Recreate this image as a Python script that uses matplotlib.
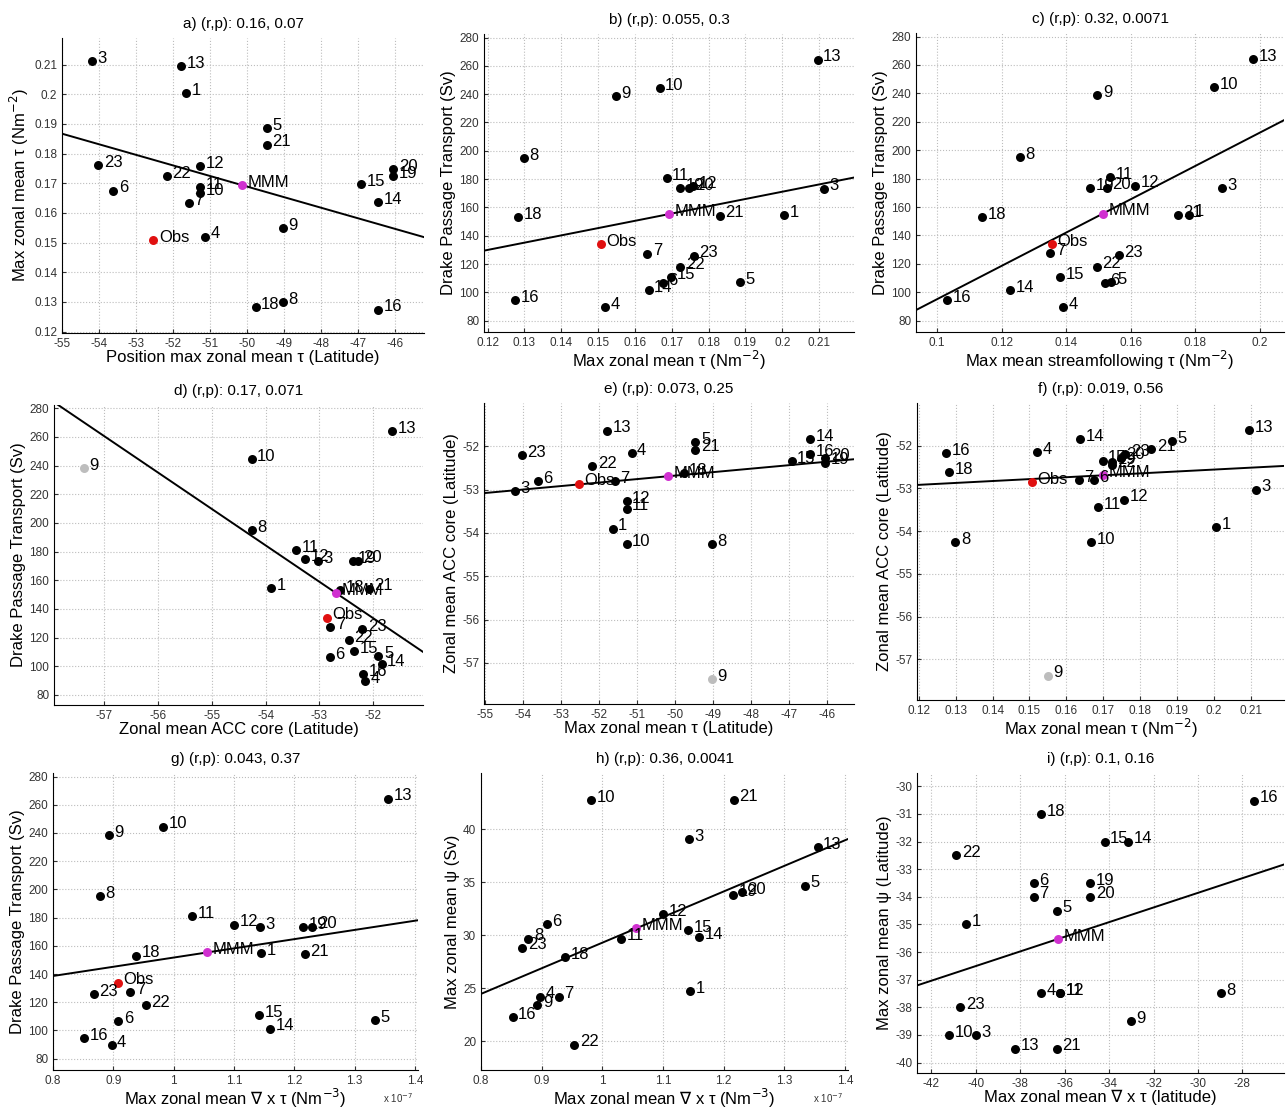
import numpy as np
import matplotlib
matplotlib.use("Agg")
import matplotlib.pyplot as plt
from matplotlib.ticker import FormatStrFormatter

plt.rcParams['font.family'] = ['Liberation Sans', 'DejaVu Sans']

# model numbers (2 and 17 are not in the figure)
models = [1, 3, 4, 5, 6, 7, 8, 9, 10, 11, 12, 13, 14, 15, 16, 18, 19, 20, 21, 22, 23]

# position of max zonal mean tau (latitude)
tau_lat = [-51.64, -54.20, -51.14, -49.46, -53.61, -51.58, -49.03, -49.03, -51.27, -51.27, -51.27,
           -51.78, -46.45, -46.93, -46.45, -49.77, -46.05, -46.05, -49.46, -52.17, -54.02]
# max zonal mean tau (N m-2)
tau_max = [0.2005, 0.2113, 0.1520, 0.1885, 0.1675, 0.1633, 0.1299, 0.1549, 0.1667, 0.1686, 0.1757,
           0.2096, 0.1637, 0.1698, 0.1274, 0.1282, 0.1723, 0.1748, 0.1830, 0.1723, 0.1760]
# Drake Passage transport (Sv)
dpt = [154.6, 173.3, 89.6, 107.3, 106.6, 127.4, 195.0, 238.5, 244.5, 180.8, 175.0,
       264.3, 101.4, 110.8, 94.5, 153.0, 173.5, 173.7, 154.1, 118.0, 126.0]
# max mean streamfollowing tau (N m-2)
sf_tau = [0.1781, 0.1882, 0.1391, 0.1540, 0.1519, 0.1351, 0.1257, 0.1496, 0.1858, 0.1536, 0.1612,
          0.1979, 0.1226, 0.1380, 0.1031, 0.1139, 0.1475, 0.1526, 0.1745, 0.1494, 0.1563]
# zonal mean ACC core (latitude)
acc_lat = [-53.90, -53.03, -52.15, -51.90, -52.81, -52.80, -54.26, -57.38, -54.26, -53.44, -53.26,
           -51.64, -51.84, -52.35, -52.18, -52.62, -52.38, -52.28, -52.08, -52.45, -52.20]
# max zonal mean curl tau (x 1e-7 N m-3)
curl_max = [1.145, 1.143, 0.897, 1.334, 0.908, 0.928, 0.878, 0.893, 0.982, 1.031, 1.100,
            1.355, 1.160, 1.141, 0.852, 0.938, 1.215, 1.230, 1.217, 0.954, 0.868]
# max zonal mean psi (Sv)
psi_max = [24.75, 39.06, 24.22, 34.69, 31.03, 24.22, 29.69, 23.44, 42.72, 29.69, 31.97,
           38.28, 29.84, 30.47, 22.28, 27.97, 33.84, 34.10, 42.78, 19.69, 28.84]
# latitude of max zonal mean curl tau
curl_lat = [-40.42, -40.00, -37.07, -36.34, -37.39, -37.39, -28.96, -33.01, -41.21, -36.22, -36.22,
            -38.21, -33.16, -34.20, -27.48, -37.07, -34.85, -34.85, -36.34, -40.88, -40.69]
# latitude of max zonal mean psi
psi_lat = [-35.0, -39.0, -37.5, -34.5, -33.5, -34.0, -37.5, -38.5, -39.0, -37.5, -37.5,
           -39.5, -32.0, -32.0, -30.52, -31.0, -33.5, -34.0, -39.5, -32.5, -38.0]

# observations
obs = {"tau_lat": -52.53, "tau_max": 0.1507, "dpt": 134.0, "sf_tau": 0.1356,
       "acc_lat": -52.86, "curl_max": 0.907}

data = {"tau_lat": tau_lat, "tau_max": tau_max, "dpt": dpt, "sf_tau": sf_tau,
        "acc_lat": acc_lat, "curl_max": curl_max, "psi_max": psi_max,
        "curl_lat": curl_lat, "psi_lat": psi_lat}

titles = ["a) (r,p): 0.16, 0.07", "b) (r,p): 0.055, 0.3", "c) (r,p): 0.32, 0.0071",
          "d) (r,p): 0.17, 0.071", "e) (r,p): 0.073, 0.25", "f) (r,p): 0.019, 0.56",
          "g) (r,p): 0.043, 0.37", "h) (r,p): 0.36, 0.0041", "i) (r,p): 0.1, 0.16"]

L_TAU = "Max zonal mean τ (Nm$^{-2}$)"
L_DPT = "Drake Passage Transport (Sv)"
L_ACC = "Zonal mean ACC core (Latitude)"
L_CURL = "Max zonal mean $\\nabla$ x τ (Nm$^{-3}$)"

# x var, y var, xlabel, ylabel, xlim, ylim, xticks, yticks, grey 9, obs, box (px)
panels = [
    ("tau_lat", "tau_max", "Position max zonal mean τ (Latitude)", L_TAU,
     (-55, -45.22), (0.1195, 0.219), np.arange(-55, -45.5, 1), np.arange(0.12, 0.215, 0.01),
     False, True, (62, 424, 38, 333)),
    ("tau_max", "dpt", L_TAU, L_DPT,
     (0.119, 0.2195), (72, 282.5), np.arange(0.12, 0.215, 0.01), np.arange(80, 281, 20),
     False, True, (484, 854, 34, 332)),
    ("sf_tau", "dpt", "Max mean streamfollowing τ (Nm$^{-2}$)", L_DPT,
     (0.0935, 0.2074), (72, 282.5), np.arange(0.1, 0.205, 0.02), np.arange(80, 281, 20),
     False, True, (916, 1284, 33, 332)),
    ("acc_lat", "dpt", L_ACC, L_DPT,
     (-57.94, -51.07), (73, 282.3), np.arange(-57, -51.5, 1), np.arange(80, 281, 20),
     True, True, (54, 423, 405, 705)),
    ("tau_lat", "acc_lat", "Max zonal mean τ (Latitude)", L_ACC,
     (-55.02, -45.29), (-57.95, -51.0), np.arange(-55, -45.5, 1), np.arange(-57, -51.5, 1),
     True, True, (484, 854, 403, 704)),
    ("tau_max", "acc_lat", L_TAU, L_ACC,
     (0.1195, 0.219), (-57.95, -51.0), np.arange(0.12, 0.215, 0.01), np.arange(-57, -51.5, 1),
     True, True, (917, 1284, 403, 700)),
    ("curl_max", "dpt", L_CURL, L_DPT,
     (0.8, 1.405), (72, 282.5), np.arange(0.8, 1.45, 0.1), np.arange(80, 281, 20),
     False, True, (53, 418, 773, 1070)),
    ("curl_max", "psi_max", L_CURL, "Max zonal mean ψ (Sv)",
     (0.8, 1.405), (17.3, 45.3), np.arange(0.8, 1.45, 0.1), np.arange(20, 41, 5),
     False, False, (481, 848, 773, 1070)),
    ("curl_lat", "psi_lat", "Max zonal mean ∇ x τ (latitude)", "Max zonal mean ψ (Latitude)",
     (-42.64, -26.13), (-40.38, -29.52), np.arange(-42, -27, 2), np.arange(-40, -29.5, 1),
     False, False, (917, 1284, 773, 1073)),
]

W, H = 1286, 1110
fig = plt.figure(figsize=(W / 100, H / 100), dpi=100)
DOT = 42

for k, (xv, yv, xlab, ylab, xlim, ylim, xt, yt, grey9, has_obs, box) in enumerate(panels):
    x0, x1, y0, y1 = box
    ax = fig.add_axes([x0 / W, (H - y1) / H, (x1 - x0) / W, (y1 - y0) / H])
    x = np.array(data[xv])
    y = np.array(data[yv])
    keep = np.ones(len(models), bool)
    if grey9:
        keep[models.index(9)] = False

    ax.set_xlim(xlim)
    ax.set_ylim(ylim)
    ax.set_xticks(xt)
    ax.set_yticks(yt)
    ax.xaxis.set_major_formatter(FormatStrFormatter("%g"))
    ax.yaxis.set_major_formatter(FormatStrFormatter("%g"))
    ax.grid(True, linestyle=":", color="#bdbdbd", linewidth=0.8)
    ax.set_axisbelow(True)
    for s in ("top", "right"):
        ax.spines[s].set_visible(False)
    ax.tick_params(direction="in", length=3, labelsize=8.5, colors="#333333")

    # least squares fit over the models used
    p = np.polyfit(x[keep], y[keep], 1)
    xx = np.array(xlim)
    ax.plot(xx, np.polyval(p, xx), color="black", lw=1.4, zorder=2)

    for i, m in enumerate(models):
        c = "black" if keep[i] else "#bdbdbd"
        ax.scatter(x[i], y[i], s=DOT, color=c, zorder=3, linewidths=0)
        ax.annotate(str(m), (x[i], y[i]), xytext=(4, 2), textcoords="offset points",
                    ha="left", va="center", fontsize=12, zorder=4)

    mx, my = x[keep].mean(), y[keep].mean()
    ax.scatter(mx, my, s=DOT, color="#d030d0", zorder=3, linewidths=0)
    ax.annotate("MMM", (mx, my), xytext=(4, 2), textcoords="offset points",
                ha="left", va="center", fontsize=12, zorder=4)
    if has_obs:
        ox, oy = obs[xv], obs[yv]
        ax.scatter(ox, oy, s=DOT, color="#e01010", zorder=3, linewidths=0)
        ax.annotate("Obs", (ox, oy), xytext=(4, 2), textcoords="offset points",
                    ha="left", va="center", fontsize=12, zorder=4)

    ax.set_xlabel(xlab, fontsize=12, labelpad=0)
    ax.set_ylabel(ylab, fontsize=12, labelpad=2)
    ax.set_title(titles[k], fontsize=11, pad=7)
    if xv == "curl_max":
        ax.text(0.945, -0.095, "x 10$^{-7}$", transform=ax.transAxes, fontsize=7,
                ha="center", va="center", color="#333333")

fig.savefig("out.png", dpi=100)
